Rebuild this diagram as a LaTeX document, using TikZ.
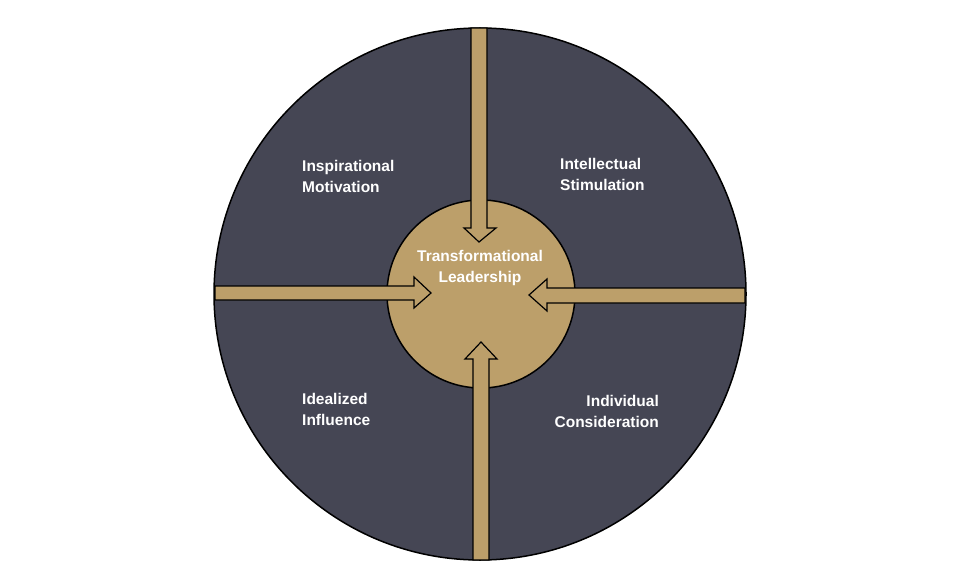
\documentclass[tikz,border=0pt]{standalone}
\usepackage{fontspec}
\setmainfont{Liberation Sans}
\definecolor{dark}{HTML}{454654}
\definecolor{tan}{HTML}{BC9F6A}
\begin{document}
\begin{tikzpicture}[x=1pt,y=-1pt,
  lbl/.style={text=white,font=\fontsize{15.5}{21}\selectfont\bfseries,inner sep=0pt},
  arr/.style={fill=tan,draw=black,line width=1.2pt,line join=miter}]
\useasboundingbox (0,0) rectangle (960,588);
\node[circle,fill=dark,draw=black,line width=1.5pt,minimum size=532pt,inner sep=0pt] (big) at (480,294) {};
\node[circle,fill=tan,draw=black,line width=1.5pt,minimum size=188pt,inner sep=0pt] (core) at (481,294) {};
% top arrow
\draw[arr] (471,28) -- (487,28) -- (487,228) -- (496,228) -- (479,242) -- (464,228) -- (471,228) -- cycle;
% bottom arrow
\draw[arr] (473,560) -- (489,560) -- (489,359) -- (497,359) -- (481,342) -- (465,359) -- (473,359) -- cycle;
% left arrow
\draw[arr] (215,286) -- (414,286) -- (414,277) -- (431,293) -- (414,308) -- (414,300) -- (215,300) -- cycle;
% right arrow
\draw[arr] (745,288) -- (547,288) -- (547,279) -- (529,295) -- (547,311) -- (547,303) -- (745,303) -- cycle;
\node[lbl,align=center] (tl) at (480,268) {Transformational\\Leadership};
\node[lbl,align=left,anchor=west] (im) at (302,176) {Inspirational\\Motivation};
\node[lbl,align=left,anchor=west] (is) at (560,174) {Intellectual\\Stimulation};
\node[lbl,align=left,anchor=west] (ii) at (302,409) {Idealized\\Influence};
\node[lbl,align=right,anchor=east] (ic) at (659,411) {Individual\\Consideration};
\end{tikzpicture}
\end{document}
